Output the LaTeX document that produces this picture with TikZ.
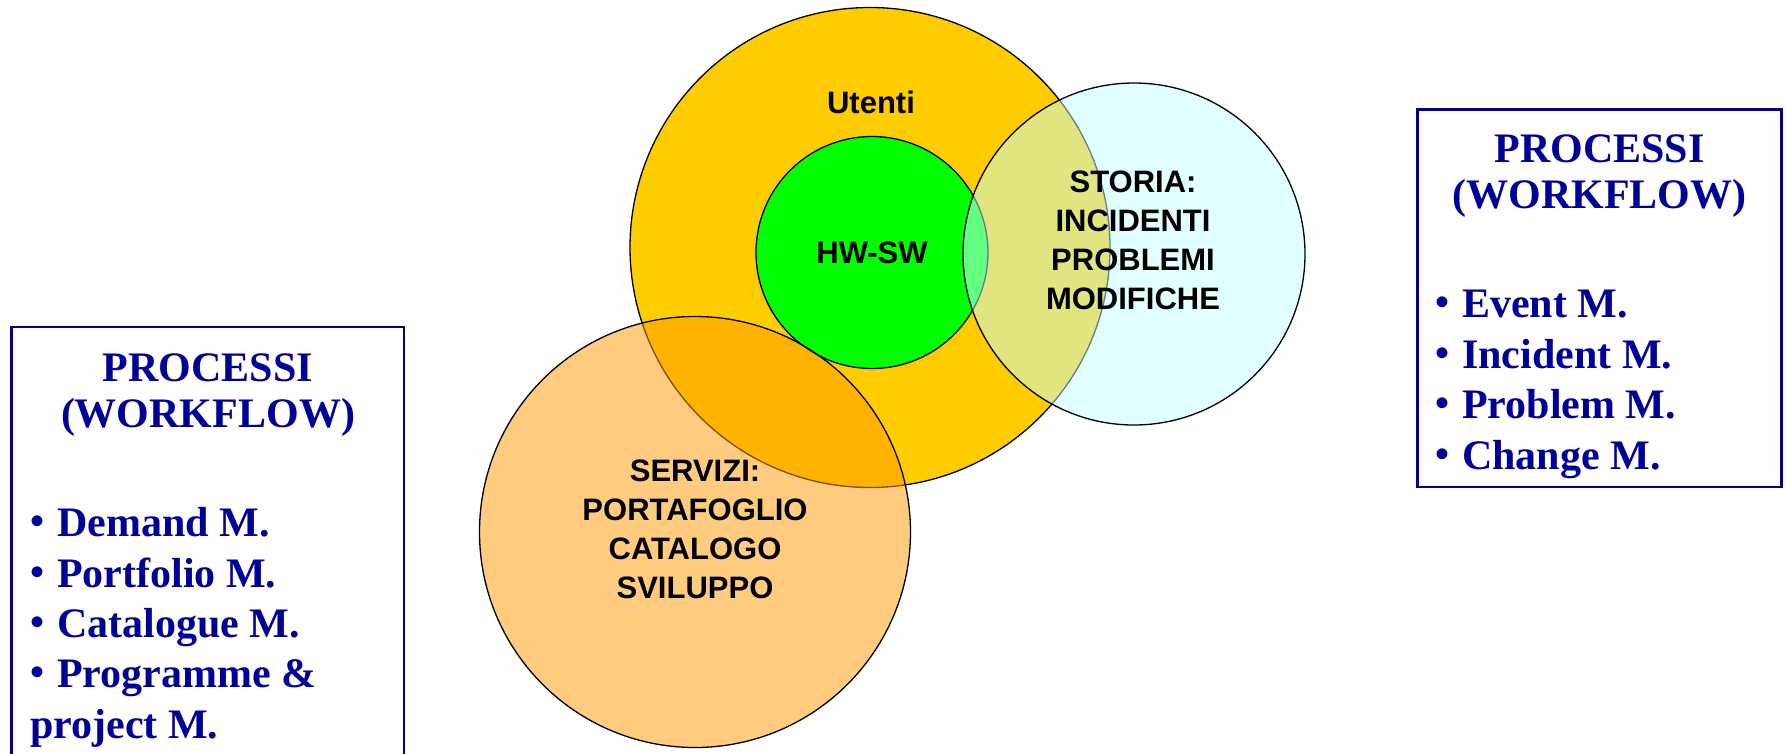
\documentclass[tikz,border=0pt]{standalone}
\usepackage{fontspec}
\setmainfont{Liberation Serif}
\newfontfamily\circfont{Liberation Sans}
\definecolor{navy}{HTML}{000099}
\definecolor{utyellow}{HTML}{FFCC00}
\definecolor{hwgreen}{HTML}{00FF00}
\definecolor{stcyan}{HTML}{C4FFFF}
\definecolor{svorange}{HTML}{FF9900}
\newcommand{\bul}{{\fontsize{40}{40}\selectfont\raisebox{2pt}{•}}\hspace{13pt}}
\begin{document}
\begin{tikzpicture}[x=1pt,y=-1pt,
  ring/.style={draw=black,line width=1.3pt},
  ctext/.style={font=\circfont\bfseries\fontsize{31}{39}\selectfont,align=center,inner sep=0pt},
  ttl/.style={font=\bfseries\fontsize{42}{48}\selectfont,text=navy,inner sep=0pt},
  itm/.style={font=\bfseries\fontsize{42}{48}\selectfont,text=navy,inner sep=0pt,anchor=base west},
  pbox/.style={draw=navy,line width=2.6pt}]
\useasboundingbox (0,0) rectangle (1785,753);
% circles
\fill[utyellow] (870,247.5) circle (240);
\draw[ring] (870,247.5) circle (240);
\fill[hwgreen] (872,252.5) circle (116);
\draw[ring] (872,252.5) circle (116);
\fill[svorange,fill opacity=0.5] (695,532) circle (215.5);
\draw[ring] (695,532) circle (215.5);
\fill[stcyan,fill opacity=0.5] (1134,254) circle (171);
\draw[ring] (1134,254) circle (171);
% circle labels
\node[ctext] (utenti) at (871,102) {Utenti};
\node[ctext] (hwsw) at (872,253) {HW-SW};
\node[ctext] (storia) at (1133,240) {STORIA:\\INCIDENTI\\PROBLEMI\\MODIFICHE};
\node[ctext] (servizi) at (695,529) {SERVIZI:\\PORTAFOGLIO\\CATALOGO\\SVILUPPO};
% left box
\draw[pbox] (11.5,327) rectangle (404,790);
\node[ttl] (lt1) at (208,368) {PROCESSI};
\node[ttl] (lt2) at (208,417) {(WORKFLOW)};
\node[itm] (l1) at (30,536) {\bul Demand M.};
\node[itm] (l2) at (30,587) {\bul Portfolio M.};
\node[itm] (l3) at (30,637) {\bul Catalogue M.};
\node[itm] (l4) at (30,687) {\bul Programme \&};
\node[itm] (l5) at (30,738) {project M.};
% right box
\draw[pbox] (1417.5,109.5) rectangle (1781.5,487);
\node[ttl] (rt1) at (1599.5,149) {PROCESSI};
\node[ttl] (rt2) at (1599.5,198) {(WORKFLOW)};
\node[itm] (r1) at (1435,317) {\bul Event M.};
\node[itm] (r2) at (1435,368) {\bul Incident M.};
\node[itm] (r3) at (1435,418) {\bul Problem M.};
\node[itm] (r4) at (1435,469) {\bul Change M.};
\end{tikzpicture}
\end{document}
